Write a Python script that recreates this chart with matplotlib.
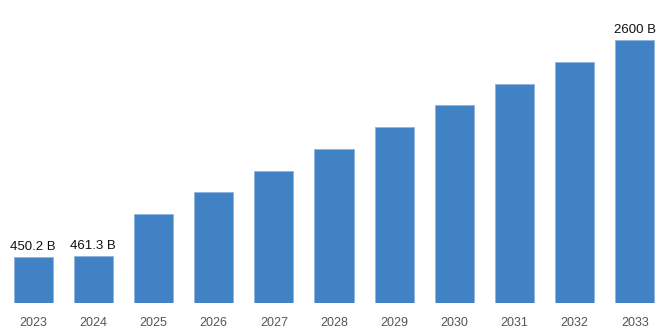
import matplotlib
matplotlib.use("Agg")
import matplotlib.pyplot as plt

years = ["2023", "2024", "2025", "2026", "2027", "2028", "2029", "2030", "2031", "2032", "2033"]
values = [450.2, 461.3, 880, 1097, 1305, 1522, 1739, 1957, 2165, 2382, 2600]
labels = {0: "450.2 B", 1: "461.3 B", 10: "2600 B"}

plt.rcParams['font.family'] = ['Liberation Sans', 'DejaVu Sans']

fig = plt.figure(figsize=(6.68, 3.34), dpi=100)
ax = fig.add_axes([3 / 668, 31 / 334, 662 / 668, 293 / 334])

x = list(range(len(years)))
ax.bar(x, values, width=0.65, color="#4182c5", edgecolor="#8fb4de", linewidth=0.6)

for i, txt in labels.items():
    ax.annotate(txt, (i, values[i]), xytext=(0, 3), textcoords="offset points",
                ha="center", va="bottom", fontsize=9.5, color="#111111")

ax.set_xlim(-0.5, len(years) - 0.5)
ax.set_ylim(0, 2600 * 293 / 263)
ax.set_xticks(x)
ax.set_xticklabels(years, fontsize=9, color="#555555")
ax.tick_params(axis="x", length=0, pad=10)
ax.set_yticks([])
for s in ax.spines.values():
    s.set_visible(False)

fig.savefig("out.png", dpi=100)
